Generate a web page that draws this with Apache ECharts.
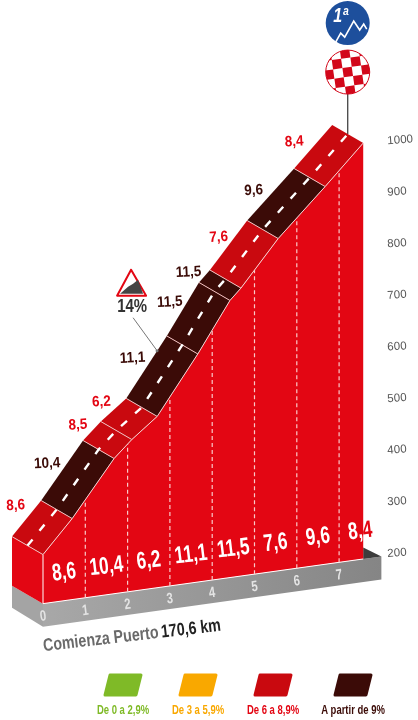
<!DOCTYPE html>
<html><head><meta charset="utf-8">
<style>html,body{margin:0;padding:0;background:#fff}#c{width:418px;height:720px}</style>
<script src="https://cdn.jsdelivr.net/npm/echarts@6/dist/echarts.min.js"></script>
</head><body><div id="c"></div>
<script>
// ---- data ----
const breakKm   = [0, 0.69, 1.68, 2.10, 2.70, 3.66, 4.42, 4.68, 5.56, 6.67, 7.57];
const breakElev = [285, 347, 452, 484, 522, 632, 727, 748, 834, 922, 996];
const roadGrades = [8.6, 10.4, 8.5, 6.2, 11.1, 11.5, 11.5, 7.6, 9.6, 8.4];
const kmGrades   = [8.6, 10.4, 6.2, 11.1, 11.5, 7.6, 9.6, 8.4];
const kmTicks    = [0, 1, 2, 3, 4, 5, 6, 7];
const steepKm = 3.43, steepElev = 606, steepLabel = '14%';
const baseElev = 190;
const legendNames  = ['De 0 a 2,9%', 'De 3 a 5,9%', 'De 6 a 8,9%', 'A partir de 9%'];
const legendColors = ['#7FBA27', '#F9A800', '#C9090F', '#3B0B07'];
const startLabelA = 'Comienza Puerto', startLabelB = '170,6 km';

// ---- layout constants ----
const SANS = '"Liberation Sans",Arial,sans-serif';
const RED = '#E30613', ROAD = '#C9090F', DARK = '#3B0B07';
const SKEW = 0.1395, DEPTH_X = -31, DEPTH_Y = -18, SKEW_END_KM = 7.57;
const labelNudge = [[-11,-13],[-15,-7],[-14,-6],[-12,-8],[-14,-9],[-13,-7],[-16,-4],[-10,-8],[-17,-4],[-19,-5]];
const fmt = v => String(v).replace('.', ',');

function proj(api, km, elev, d) {
  const c = api.coord([km, elev]);
  const e = api.coord([SKEW_END_KM, elev]);
  const s = SKEW * (e[0] - c[0]);
  d = d || 0;
  return [c[0] + DEPTH_X * d, c[1] + s + DEPTH_Y * d];
}
function profileAt(km) {
  for (let i = 0; i < breakKm.length - 1; i++) {
    if (km <= breakKm[i + 1]) {
      const t = (km - breakKm[i]) / (breakKm[i + 1] - breakKm[i]);
      return breakElev[i] + t * (breakElev[i + 1] - breakElev[i]);
    }
  }
  return breakElev[breakElev.length - 1];
}
const once = [[0, 0]];

const baseSeries = {
  type: 'custom', coordinateSystem: 'cartesian2d', data: once, z: 1, silent: true,
  renderItem(p, api) {
    const a = proj(api, 0, baseElev), b = proj(api, 8, baseElev), e = proj(api, SKEW_END_KM, baseElev);
    const h = 23;
    const grad = {type:'linear',x:0,y:0,x2:1,y2:0,colorStops:[{offset:0,color:'#A8A8A8'},{offset:1,color:'#858585'}]};
    const back = proj(api, 0, baseElev, 1);
    const topE = proj(api, SKEW_END_KM, baseElev + 22);
    return {type:'group', children:[
      {type:'polygon', shape:{points:[back,a,[a[0],a[1]+h],[back[0],back[1]+h-1]]}, style:{fill:'#A4A4A4'}},
      {type:'polygon', shape:{points:[a,b,[b[0],b[1]+h],[a[0],a[1]+h]]}, style:{fill:grad}},
      {type:'polygon', shape:{points:[topE,b,e]}, style:{fill:'#3C3C3C'}}
    ]};
  }
};
const faceSeries = {
  type: 'custom', coordinateSystem: 'cartesian2d', data: once, z: 2, silent: true,
  renderItem(p, api) {
    const top = breakKm.map((k, i) => proj(api, k, breakElev[i]));
    const last = breakKm.length - 1;
    const bl = proj(api, 0, baseElev), br = proj(api, breakKm[last], baseElev);
    const bbl = proj(api, 0, baseElev, 1), tbl = proj(api, 0, breakElev[0], 1);
    return {type:'group', children:[
      {type:'polygon', shape:{points:[tbl, top[0], bl, bbl]}, style:{fill:RED}},
      {type:'polygon', shape:{points:[...top, br, bl]}, style:{fill:RED}},
      {type:'polyline', shape:{points:[top[0], bl, br]}, style:{stroke:'#fff', lineWidth:1, fill:null}}
    ]};
  }
};
const kmLineSeries = {
  type: 'custom', coordinateSystem: 'cartesian2d', z: 3, silent: true,
  data: kmTicks.slice(1).map(k => [k, k]),
  renderItem(p, api) {
    const k = api.value(0);
    return {type:'line', shape:(()=>{const a=proj(api,k,baseElev),b=proj(api,k,profileAt(k));
      return {x1:a[0],y1:a[1],x2:b[0],y2:b[1]};})(),
      style:{stroke:'#F9C9C9', lineWidth:1.2, lineDash:[4,3]}};
  }
};
const roadSeries = {
  type: 'custom', coordinateSystem: 'cartesian2d', z: 4, silent: true,
  data: roadGrades.map((g, i) => [breakKm[i], breakElev[i], breakKm[i + 1], breakElev[i + 1], g]),
  renderItem(p, api) {
    const k0=api.value(0), e0=api.value(1), k1=api.value(2), e1=api.value(3), g=api.value(4);
    const f0=proj(api,k0,e0), f1=proj(api,k1,e1), b1=proj(api,k1,e1,1), b0=proj(api,k0,e0,1);
    return {type:'group', children:[
      {type:'polygon', shape:{points:[f0,f1,b1,b0]}, style:{fill: g >= 9 ? DARK : ROAD}},
      {type:'line', shape:{x1:f0[0],y1:f0[1],x2:f1[0],y2:f1[1]}, style:{stroke:'#F7D4D4',lineWidth:1}},
      {type:'line', shape:{x1:f0[0],y1:f0[1],x2:b0[0],y2:b0[1]}, style:{stroke:'#F0BDBD',lineWidth:1}}
    ]};
  }
};
const centreSeries = {
  type: 'custom', coordinateSystem: 'cartesian2d', data: once, z: 5, silent: true,
  renderItem(p, api) {
    return {type:'polyline', shape:{points:breakKm.map((k,i)=>proj(api,k,breakElev[i],0.5))},
      style:{stroke:'#fff', lineWidth:2.4, lineDash:[8,11], fill:null}};
  }
};
const roadLabelSeries = {
  type: 'custom', coordinateSystem: 'cartesian2d', z: 6, silent: true,
  data: roadGrades.map((g, i) => [(breakKm[i]+breakKm[i+1])/2, (breakElev[i]+breakElev[i+1])/2, g, i]),
  renderItem(p, api) {
    const g = api.value(2), i = api.value(3), q = proj(api, api.value(0), api.value(1), 1);
    return {type:'text', x:q[0]+labelNudge[i][0], y:q[1]+labelNudge[i][1], rotation:0.05, scaleX:0.9,
      style:{text:fmt(g), fill: g >= 9 ? DARK : RED, font:'bold 15px '+SANS, align:'center', verticalAlign:'middle'}};
  }
};
const kmGradeSeries = {
  type: 'custom', coordinateSystem: 'cartesian2d', z: 6, silent: true,
  data: kmGrades.map((g, i) => [kmTicks[i] + 0.5, g, i]),
  renderItem(p, api) {
    const q = proj(api, api.value(0), baseElev);
    const g = api.value(1), last = api.value(2) === kmGrades.length - 1;
    const s = fmt(g);
    const style = last
      ? {text:'{w|'+s.slice(0,2)+'}{r|'+s.slice(2)+'}', rich:{w:{fill:'#fff',font:'bold 24px '+SANS},r:{fill:RED,font:'bold 24px '+SANS}}, align:'center', verticalAlign:'middle'}
      : {text:s, fill:'#fff', font:'bold 24px '+SANS, align:'center', verticalAlign:'middle'};
    return {type:'text', x:q[0], y:q[1]-28, rotation:0.12, scaleX:0.72, style};
  }
};
const kmTickSeries = {
  type: 'custom', coordinateSystem: 'cartesian2d', z: 6, silent: true,
  data: kmTicks.map(k => [k, k]),
  renderItem(p, api) {
    const k = api.value(0), q = proj(api, k, baseElev);
    return {type:'text', x:q[0], y:q[1]+13, rotation:0.12, scaleX:0.75,
      style:{text:String(k), fill:'#E4E4E4', font:'bold 15px '+SANS, align:'center', verticalAlign:'middle'}};
  }
};
const steepSeries = {
  type: 'custom', coordinateSystem: 'cartesian2d', z: 7, silent: true,
  data: [[steepKm, steepElev]],
  renderItem(p, api) {
    const q = proj(api, api.value(0), api.value(1), 1), x = q[0], y = q[1];
    const P = (dx, dy) => [x + dx, y + dy];
    return {type:'group', children:[
      {type:'line', shape:{x1:x-24,y1:y-33,x2:x,y2:y}, style:{stroke:'#777',lineWidth:1}},
      {type:'circle', shape:{cx:x,cy:y,r:1.5}, style:{fill:'#777'}},
      {type:'polygon', shape:{points:[P(-26,-81),P(-40,-55),P(-11,-55)]}, style:{fill:'#fff',stroke:RED,lineWidth:2,lineJoin:'round'}},
      {type:'polygon', shape:{points:[P(-37,-57),P(-29,-64),P(-24,-67),P(-19,-71),P(-14,-57)]}, style:{fill:'#444'}},
      {type:'text', x:x-25, y:y-44, scaleX:0.83, style:{text:steepLabel, fill:'#333', font:'bold 18px '+SANS, align:'center', verticalAlign:'middle'}}
    ]};
  }
};
const summitSeries = {
  type: 'custom', coordinateSystem: 'cartesian2d', z: 7, silent: true,
  data: [[breakKm[breakKm.length-1], breakElev[breakElev.length-1]]],
  renderItem(p, api) {
    const q = proj(api, api.value(0), api.value(1), 0.5), x = q[0], y = q[1];
    const cy1 = y - 111, cy2 = y - 62, r = 22, cell = 9.4;
    const cells = [];
    for (let i = -3; i <= 3; i++) for (let j = -3; j <= 3; j++) {
      if ((i + j + 6) % 2 === 0) cells.push({type:'rect', shape:{x:i*cell-cell/2,y:j*cell-cell/2,width:cell,height:cell}, style:{fill:'#D2071A'}});
    }
    const M = (dx, dy) => [x + dx, cy1 + dy];
    return {type:'group', children:[
      {type:'line', shape:{x1:x,y1:cy2+r,x2:x,y2:y}, style:{stroke:'#444',lineWidth:1.3}},
      {type:'circle', shape:{cx:x,cy:cy1,r:r}, style:{fill:'#1D4F9C'}},
      {type:'polyline', shape:{points:[M(-12,19),M(-7,10),M(-3,14),M(6,-2),M(12,7),M(16,1),M(19,6)]}, style:{stroke:'#fff',lineWidth:1.6,fill:null}},
      {type:'text', x:x-7, y:cy1-7, scaleX:0.8, style:{text:'1ª', fill:'#fff', font:'italic bold 20px '+SANS, align:'center', verticalAlign:'middle'}},
      {type:'circle', shape:{cx:x,cy:cy2,r:r}, style:{fill:'#fff'}},
      {type:'group', x:x, y:cy2, rotation:0.14, clipPath:{type:'circle', shape:{cx:0,cy:0,r:r}}, children:cells},
      {type:'circle', shape:{cx:x,cy:cy2,r:r}, style:{fill:null,stroke:'#D2071A',lineWidth:1}}
    ]};
  }
};

const legendX = [123, 198, 273, 353];
const legendGraphics = [];
legendNames.forEach((n, i) => {
  const cx = legendX[i];
  legendGraphics.push({type:'polygon', shape:{points:[[cx-13,675],[cx+18,675],[cx+13,695],[cx-18,695]]},
    style:{fill:legendColors[i],stroke:legendColors[i],lineWidth:3,lineJoin:'round'}});
  legendGraphics.push({type:'text', x:cx, y:711, scaleX:0.79, style:{text:n, fill:legendColors[i]===ROAD?RED:legendColors[i], font:'bold 12px '+SANS, align:'center', verticalAlign:'middle'}});
});
legendGraphics.push({type:'text', x:132, y:636, rotation:0.115, scaleX:0.79,
  style:{text:'{a|'+startLabelA+'} {b|'+startLabelB+'}', rich:{a:{fill:'#6A6A6A',font:'bold 18px '+SANS},b:{fill:'#222',font:'bold 18px '+SANS}}, align:'center', verticalAlign:'middle'}});

const chart = echarts.init(document.getElementById('c'), null, {renderer:'canvas'});
chart.setOption({
  animation: false,
  backgroundColor: '#fff',
  grid: {left:43, top:141, width:338.4, height:412.8},
  xAxis: {type:'value', min:0, max:8, show:false},
  yAxis: {type:'value', position:'right', min:200, max:1000, interval:100,
    axisLine:{show:false}, axisTick:{show:false}, splitLine:{show:false},
    axisLabel:{color:'#555', fontSize:11.5, fontFamily:SANS, margin:6, align:'left', rotate:4, formatter:v=>String(v)}},
  graphic: legendGraphics,
  series: [baseSeries, faceSeries, kmLineSeries, roadSeries, centreSeries, roadLabelSeries, kmGradeSeries, kmTickSeries, steepSeries, summitSeries]
});
</script></body></html>
